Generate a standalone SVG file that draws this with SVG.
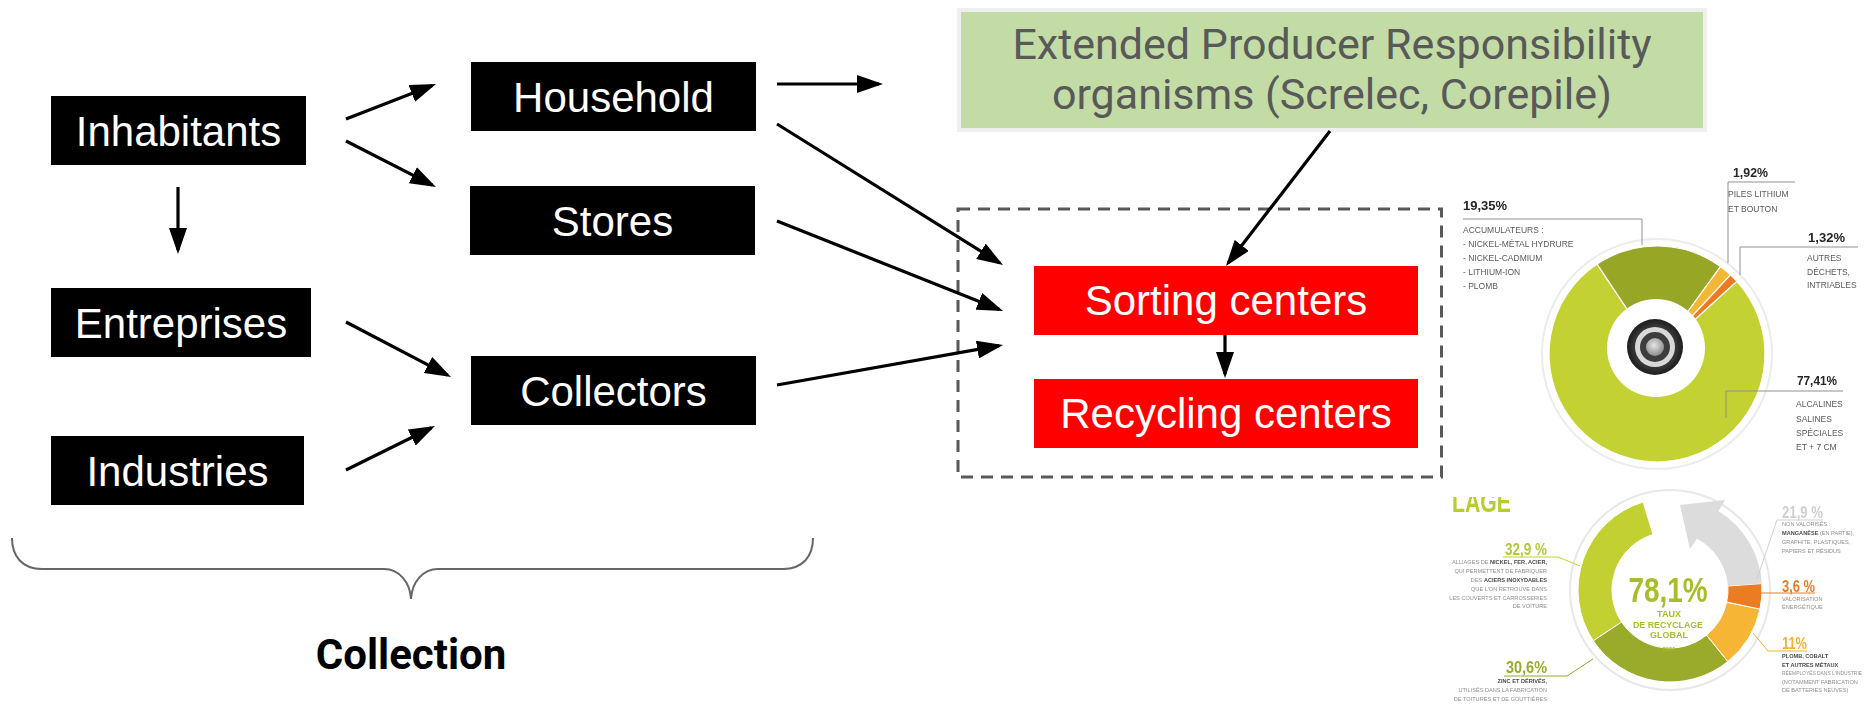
<svg xmlns="http://www.w3.org/2000/svg" width="1864" height="704" viewBox="0 0 1864 704">
  <defs>
    <style>
      .box { fill: #000000; }
      .boxtxt { font-family: "Liberation Sans", Arial, sans-serif; font-size: 42px; fill: #ffffff; text-anchor: middle; }
      .red { fill: #ff0000; }
      .conn { stroke: #000000; stroke-width: 3.2; fill: none; marker-end: url(#ah); }
      .epr { font-family: Roboto, "Liberation Sans", sans-serif; font-size: 43px; fill: #595959; text-anchor: middle; }
      .lead { stroke: #8f8f8f; stroke-width: 1; fill: none; }
      .pct { font-family: "Liberation Sans", Arial, sans-serif; font-weight: bold; fill: #262626; }
      .lbl { font-family: "Liberation Sans", Arial, sans-serif; font-size: 8.5px; fill: #5a5a5a; }
      .sm { font-family: "Liberation Sans", Arial, sans-serif; font-size: 5.6px; fill: #8f8f8f; }
      .smb { font-weight: bold; fill: #4a4a4a; }
      .ctr { font-family: "Liberation Sans", Arial, sans-serif; font-weight: bold; fill: #a9bd2b; text-anchor: middle; }
    </style>
    <marker id="ah" markerUnits="userSpaceOnUse" markerWidth="26" markerHeight="18" viewBox="0 0 26 18" refX="22" refY="9" orient="auto">
      <path d="M0,0 L26,9 L0,18 Z" fill="#000000"/>
    </marker>
    <filter id="soft" x="-5%" y="-5%" width="110%" height="110%">
      <feGaussianBlur stdDeviation="0.45"/>
    </filter>
    <radialGradient id="cellOuter" cx="50%" cy="50%" r="50%">
      <stop offset="0" stop-color="#8a8a8a"/>
      <stop offset="0.7" stop-color="#3a3a3a"/>
      <stop offset="1" stop-color="#1e1e1e"/>
    </radialGradient>
    <radialGradient id="cellCore" cx="45%" cy="40%" r="60%">
      <stop offset="0" stop-color="#e6e6e6"/>
      <stop offset="1" stop-color="#8c8c8c"/>
    </radialGradient>
    <clipPath id="headClip">
      <rect x="1440" y="497" width="100" height="20"/>
    </clipPath>
  </defs>

  <!-- collection actors -->
  <g id="inhabitants">
    <rect class="box" x="51" y="96" width="255" height="69"/>
    <text class="boxtxt" x="178.5" y="145.5">Inhabitants</text>
  </g>
  <g id="entreprises">
    <rect class="box" x="51" y="288" width="260" height="69"/>
    <text class="boxtxt" x="181" y="337.5">Entreprises</text>
  </g>
  <g id="industries">
    <rect class="box" x="51" y="436" width="253" height="69"/>
    <text class="boxtxt" x="177.5" y="485.5">Industries</text>
  </g>
  <g id="household">
    <rect class="box" x="471" y="62" width="285" height="69"/>
    <text class="boxtxt" x="613.5" y="111.5">Household</text>
  </g>
  <g id="stores">
    <rect class="box" x="470" y="186" width="285" height="69"/>
    <text class="boxtxt" x="612.5" y="235.5">Stores</text>
  </g>
  <g id="collectors">
    <rect class="box" x="471" y="356" width="285" height="69"/>
    <text class="boxtxt" x="613.5" y="405.5">Collectors</text>
  </g>

  <!-- producer responsibility organisms -->
  <g id="epr">
    <rect x="957" y="8" width="750" height="124" fill="#efefef"/>
    <rect x="961" y="12" width="742" height="116" fill="#c3dca5"/>
    <text class="epr" x="1332" y="58.7">Extended Producer Responsibility</text>
    <text class="epr" x="1332" y="109">organisms (Screlec, Corepile)</text>
  </g>

  <!-- treatment group -->
  <g id="treatment">
    <rect x="958" y="209" width="483.5" height="268" fill="none" stroke="#595959" stroke-width="3" stroke-dasharray="12 8"/>
  </g>
  <g id="sorting">
    <rect class="red" x="1034" y="266" width="384" height="69"/>
    <text class="boxtxt" x="1226" y="315">Sorting centers</text>
  </g>
  <g id="recycling">
    <rect class="red" x="1034" y="379" width="384" height="69"/>
    <text class="boxtxt" x="1226" y="428">Recycling centers</text>
  </g>

  <!-- connectors -->
  <g id="connectors">
    <line class="conn" x1="346" y1="119" x2="432.3" y2="85.4"/>
    <line class="conn" x1="346" y1="141" x2="432.4" y2="185.2"/>
    <line class="conn" x1="178" y1="187" x2="178" y2="250"/>
    <line class="conn" x1="346" y1="322" x2="447.5" y2="375.1"/>
    <line class="conn" x1="346" y1="470" x2="431.4" y2="427.8"/>
    <line class="conn" x1="777" y1="84" x2="879" y2="84"/>
    <line class="conn" x1="777" y1="124" x2="999.6" y2="262.9"/>
    <line class="conn" x1="777" y1="221" x2="999.3" y2="309.5"/>
    <line class="conn" x1="777" y1="385" x2="999.1" y2="345.7"/>
    <line class="conn" x1="1330" y1="131" x2="1228.4" y2="262.8"/>
    <line class="conn" x1="1225" y1="335" x2="1225" y2="374"/>
  </g>

  <!-- brace and caption -->
  <g id="collection">
    <path d="M12,538 C12,556 22,569 42,569 L384,569 C399,569 410,582 411,599 C412,582 423,569 438,569 L783,569 C803,569 813,556 813,538" fill="none" stroke="#666666" stroke-width="2"/>
    <text x="411" y="669" font-family="Roboto, 'Liberation Sans', sans-serif" font-weight="bold" font-size="42" fill="#000000" text-anchor="middle">Collection</text>
  </g>

  <!-- battery share donut -->
  <g id="battery-share" filter="url(#soft)">
    <circle cx="1657" cy="354" r="115" fill="none" stroke="#ececec" stroke-width="2"/>
    <g stroke="#ffffff" stroke-width="1.2">
      <path d="M1657,354 L1736.9,281.3 A108,108 0 1 1 1597.1,264.1 Z" fill="#c4d131"/>
      <path d="M1657,354 L1597.1,264.1 A108,108 0 0 1 1720.5,266.6 Z" fill="#98a627"/>
      <path d="M1657,354 L1720.5,266.6 A108,108 0 0 1 1730.5,274.9 Z" fill="#f4b634"/>
      <path d="M1657,354 L1730.5,274.9 A108,108 0 0 1 1736.9,281.3 Z" fill="#ec7a24"/>
    </g>
    <circle cx="1656" cy="348" r="49" fill="#ffffff"/>
    <circle cx="1655" cy="347" r="28" fill="url(#cellOuter)"/>
    <circle cx="1655" cy="347" r="20" fill="#d9d9d9"/>
    <circle cx="1655" cy="347" r="15" fill="#3c3c3c"/>
    <circle cx="1655" cy="347" r="9" fill="url(#cellCore)"/>

    <path class="lead" d="M1463,219 H1642 V245"/>
    <path class="lead" d="M1795,182 H1728 V263"/>
    <path class="lead" d="M1858,247 H1740 V275"/>
    <path class="lead" d="M1843,391 H1726 V418"/>

    <text class="pct" x="1463" y="210" font-size="13">19,35%</text>
    <text class="lbl" x="1463" y="233">ACCUMULATEURS :</text>
    <text class="lbl" x="1463" y="247">- NICKEL-MÉTAL HYDRURE</text>
    <text class="lbl" x="1463" y="261">- NICKEL-CADMIUM</text>
    <text class="lbl" x="1463" y="275">- LITHIUM-ION</text>
    <text class="lbl" x="1463" y="289">- PLOMB</text>

    <text class="pct" x="1733" y="177" font-size="13" textLength="35" lengthAdjust="spacingAndGlyphs">1,92%</text>
    <text class="lbl" x="1728" y="197">PILES LITHIUM</text>
    <text class="lbl" x="1728" y="212">ET BOUTON</text>

    <text class="pct" x="1808" y="242" font-size="13" textLength="37" lengthAdjust="spacingAndGlyphs">1,32%</text>
    <text class="lbl" x="1807" y="261">AUTRES</text>
    <text class="lbl" x="1807" y="275">DÉCHETS,</text>
    <text class="lbl" x="1807" y="288">INTRIABLES</text>

    <text class="pct" x="1797" y="385" font-size="13" textLength="40" lengthAdjust="spacingAndGlyphs">77,41%</text>
    <text class="lbl" x="1796" y="407">ALCALINES</text>
    <text class="lbl" x="1796" y="422">SALINES</text>
    <text class="lbl" x="1796" y="436">SPÉCIALES</text>
    <text class="lbl" x="1796" y="450">ET + 7 CM</text>
  </g>

  <!-- recycling rate donut -->
  <g id="recycling-rate" filter="url(#soft)">
    <text x="1452" y="512" clip-path="url(#headClip)" font-family="'Liberation Sans', Arial, sans-serif" font-weight="bold" font-size="30" fill="#b8cc2c" textLength="59" lengthAdjust="spacingAndGlyphs">LAGE</text>

    <circle cx="1670" cy="590" r="100" fill="none" stroke="#e8e8e8" stroke-width="2"/>
    <g stroke="#ffffff" stroke-width="1">
      <path d="M1593.3,640.8 A92,92 0 0 1 1643.1,502.0 L1653.0,534.5 A58,58 0 0 0 1621.6,622.0 Z" fill="#c2d033"/>
      <path d="M1727.9,661.5 A92,92 0 0 1 1593.3,640.8 L1621.6,622.0 A58,58 0 0 0 1706.5,635.1 Z" fill="#9aaa2a"/>
      <path d="M1760.0,609.1 A92,92 0 0 1 1727.9,661.5 L1706.5,635.1 A58,58 0 0 0 1726.7,602.1 Z" fill="#f6b535"/>
      <path d="M1761.8,583.6 A92,92 0 0 1 1760.0,609.1 L1726.7,602.1 A58,58 0 0 0 1727.9,586.0 Z" fill="#ec7b23"/>
    </g>
    <path d="M1761.8,583.6 A92,92 0 0 0 1718.5,511 L1725,500 L1680,505 L1690,549 L1697,538.8 A58,58 0 0 1 1727.9,586.0 Z" fill="#dcdcdc"/>

    <text class="ctr" x="1668" y="602" font-size="35" fill="#b5c834" textLength="79" lengthAdjust="spacingAndGlyphs">78,1%</text>
    <text class="ctr" x="1669" y="617" font-size="9">TAUX</text>
    <text class="ctr" x="1668" y="628" font-size="9" textLength="70" lengthAdjust="spacingAndGlyphs">DE RECYCLAGE</text>
    <text class="ctr" x="1669" y="638" font-size="9">GLOBAL</text>
    <text class="ctr" x="1669" y="651" font-size="5.8">2021</text>

    <path d="M1503,557 H1558 L1580,566" fill="none" stroke="#c2d033" stroke-width="1"/>
    <text class="pct" x="1547" y="555" font-size="17" text-anchor="end" textLength="42" lengthAdjust="spacingAndGlyphs" style="fill:#b5c834">32,9 %</text>
    <g class="sm" text-anchor="end">
      <text x="1547" y="564">ALLIAGES DE <tspan class="smb">NICKEL, FER, ACIER,</tspan></text>
      <text x="1547" y="573">QUI PERMETTENT DE FABRIQUER</text>
      <text x="1547" y="582">DES <tspan class="smb">ACIERS INOXYDABLES</tspan></text>
      <text x="1547" y="591">QUE L'ON RETROUVE DANS</text>
      <text x="1547" y="600">LES COUVERTS ET CARROSSERIES</text>
      <text x="1547" y="608">DE VOITURE</text>
    </g>

    <path d="M1504,676 H1567 L1593,659" fill="none" stroke="#9aaa2a" stroke-width="1"/>
    <text class="pct" x="1547" y="673" font-size="17" text-anchor="end" textLength="41" lengthAdjust="spacingAndGlyphs" style="fill:#9aaa2a">30,6%</text>
    <g class="sm" text-anchor="end">
      <text x="1547" y="683" class="smb">ZINC ET DÉRIVÉS,</text>
      <text x="1547" y="692">UTILISÉS DANS LA FABRICATION</text>
      <text x="1547" y="701">DE TOITURES ET DE GOUTTIÈRES</text>
    </g>

    <path d="M1757,579 L1777,520 H1823" fill="none" stroke="#d0d0d0" stroke-width="1"/>
    <text class="pct" x="1782" y="518" font-size="16" textLength="41" lengthAdjust="spacingAndGlyphs" style="fill:#cfcfcf">21,9 %</text>
    <g class="sm">
      <text x="1782" y="526">NON VALORISÉS :</text>
      <text x="1782" y="535"><tspan class="smb">MANGANÈSE</tspan> (EN PARTIE),</text>
      <text x="1782" y="544">GRAPHITE, PLASTIQUES,</text>
      <text x="1782" y="553">PAPIERS ET RÉSIDUS</text>
    </g>

    <path d="M1760,593 H1815" fill="none" stroke="#ec7b23" stroke-width="1"/>
    <text class="pct" x="1782" y="592" font-size="16" textLength="33" lengthAdjust="spacingAndGlyphs" style="fill:#ec7b23">3,6 %</text>
    <g class="sm">
      <text x="1782" y="601">VALORISATION</text>
      <text x="1782" y="609">ÉNERGÉTIQUE</text>
    </g>

    <path d="M1753,633 L1768,651 H1807" fill="none" stroke="#f2b12f" stroke-width="1"/>
    <text class="pct" x="1782" y="649" font-size="16" textLength="25" lengthAdjust="spacingAndGlyphs" style="fill:#f2b12f">11%</text>
    <g class="sm">
      <text x="1782" y="658" class="smb">PLOMB, COBALT</text>
      <text x="1782" y="667" class="smb">ET AUTRES MÉTAUX</text>
      <text x="1782" y="675" font-size="4.9">RÉEMPLOYÉS DANS L'INDUSTRIE</text>
      <text x="1782" y="684">(NOTAMMENT FABRICATION</text>
      <text x="1782" y="692">DE BATTERIES NEUVES)</text>
    </g>
  </g>
</svg>
